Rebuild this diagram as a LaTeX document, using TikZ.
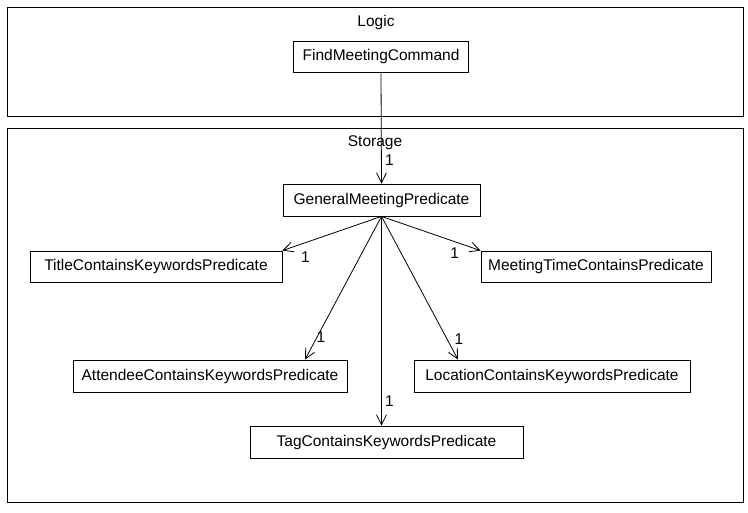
\documentclass[tikz,border=0pt]{standalone}
\usepackage{fontspec}
\setmainfont{Liberation Sans}
\usetikzlibrary{arrows.meta}

\begin{document}
\begin{tikzpicture} [
                x=1pt, y=-1pt,
                font=\fontsize{15.5}{18}\selectfont,
                framenode/.style={
                    rectangle,
                    draw,
                    line width=1pt,
                    minimum width=736pt
                },
                classnode/.style={
                    rectangle,
                    draw,
                    line width=0.8pt,
                    minimum height=31pt,
                    inner sep=0pt
                },
                assoc/.style={
                    line width=0.8pt,
                    -{Straight Barb[length=10pt,width=10pt]}
                },
                mult/.style={
                    inner sep=0pt
                }
            ]

                \useasboundingbox (0,0) rectangle (748,513);

                \node[framenode, minimum height=109pt]  (logicframe)    at (375,62.5)   {};
                \node[framenode, minimum height=373pt]  (storageframe)  at (375,315.5)  {};
                \node                                   (logiclabel)    at (376,22)     {Logic};
                \node                                   (storagelabel)  at (375,143)    {Storage};

                \node[classnode, minimum width=175pt]               (find)      at (381,56.5)   {FindMeetingCommand};
                \node[classnode, minimum width=197pt, minimum height=32pt]  (general)   at (381.5,200)  {GeneralMeetingPredicate};
                \node[classnode, minimum width=252pt]               (title)     at (156,266.5)  {TitleContainsKeywordsPredicate};
                \node[classnode, minimum width=230pt]               (mtime)     at (596,266.5)  {MeetingTimeContainsPredicate};
                \node[classnode, minimum width=274pt, minimum height=32pt]  (attendee)  at (210,376)    {AttendeeContainsKeywordsPredicate};
                \node[classnode, minimum width=276pt, minimum height=32pt]  (location)  at (552,376)    {LocationContainsKeywordsPredicate};
                \node[classnode, minimum width=273pt, minimum height=32pt]  (tag)       at (386.5,442)  {TagContainsKeywordsPredicate};

                \draw[assoc] (find.south)    -- (general.north)                 node[mult, at end, xshift=8pt,   yshift=23pt]  {1};
                \draw[assoc] (general.south) -- (title.north east)              node[mult, at end, xshift=23pt,  yshift=-7pt]  {1};
                \draw[assoc] (general.south) -- (mtime.north west)              node[mult, at end, xshift=-26pt, yshift=-3pt]  {1};
                \draw[assoc] (general.south) -- ([xshift=95pt]attendee.north)   node[mult, at end, xshift=16pt,  yshift=22pt]  {1};
                \draw[assoc] (general.south) -- ([xshift=-94pt]location.north)  node[mult, at end, xshift=1pt,   yshift=20pt]  {1};
                \draw[assoc] (general.south) -- (general.south |- tag.north)    node[mult, at end, xshift=8pt,   yshift=24pt]  {1};

            \end{tikzpicture}
\end{document}
